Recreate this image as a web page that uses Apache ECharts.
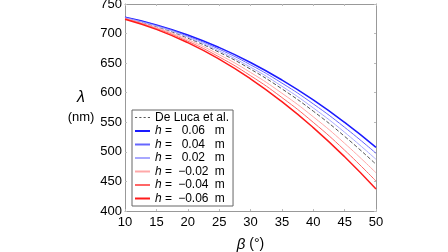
<!DOCTYPE html>
<html><head><meta charset="utf-8">
<script src="https://cdn.jsdelivr.net/npm/echarts@6/dist/echarts.min.js"></script>
<style>html,body{margin:0;padding:0;background:#fff}#c{width:448px;height:252px}</style>
</head><body><div id="c"></div>
<script>
var beta = [10, 15, 20, 25, 30, 35, 40, 45, 50];
var deLuca = [726.2, 711.6, 692.3, 668.4, 639.9, 606.6, 568.8, 526.2, 479.0];
var hP06 = [727.5, 714.7, 697.6, 676.4, 651.1, 621.5, 587.8, 549.8, 507.7];
var hP04 = [727.0, 713.6, 695.7, 673.6, 647.2, 616.3, 581.1, 541.5, 497.6];
var hP02 = [726.6, 712.5, 693.9, 670.7, 643.2, 611.0, 574.3, 533.1, 487.4];
var hM02 = [725.5, 710.1, 689.7, 664.4, 634.3, 599.2, 559.3, 514.4, 464.6];
var hM04 = [724.9, 708.5, 687.1, 660.5, 628.8, 591.9, 549.9, 502.8, 450.6];
var hM06 = [724.3, 707.1, 684.6, 656.7, 623.5, 584.9, 541.0, 491.7, 437.1];
var xTicks = [10, 15, 20, 25, 30, 35, 40, 45, 50];
var yTicks = [400, 450, 500, 550, 600, 650, 700, 750];

var FONT = 'Liberation Sans';
function pairs(arr){ return beta.map(function(b,i){ return [b, arr[i]]; }); }
var DASH_ICON = 'path://M0,0h2v1h-2zM4,0h2v1h-2zM8,0h2v1h-2zM12,0h2v1h-2z';
var defs = [
  {name:'De Luca et al.', data:deLuca, color:'#555555', width:1, type:'dashed', icon:DASH_ICON},
  {name:'0.06', data:hP06, color:'#1a1aff', width:1.5, type:'solid', icon:'rect'},
  {name:'0.04', data:hP04, color:'#6666ff', width:1, type:'solid', icon:'rect'},
  {name:'0.02', data:hP02, color:'#a8a8ff', width:1, type:'solid', icon:'rect'},
  {name:'\u22120.02', data:hM02, color:'#ffa8a8', width:1, type:'solid', icon:'rect'},
  {name:'\u22120.04', data:hM04, color:'#ff6666', width:1, type:'solid', icon:'rect'},
  {name:'\u22120.06', data:hM06, color:'#ff1a1a', width:1.5, type:'solid', icon:'rect'}
];
var series = defs.map(function(d){
  return {type:'line', name:d.name, data:pairs(d.data), smooth:true, symbol:'none',
    xAxisIndex:0, yAxisIndex:0,
    lineStyle:{color:d.color, width:d.width, type:d.type}, itemStyle:{color:d.color}};
});
var axisCommon = {
  axisLine:{show:true, onZero:false, lineStyle:{color:'#999999', width:1}},
  axisTick:{show:true, inside:true, length:2, lineStyle:{color:'#bbbbbb'}},
  splitLine:{show:false}
};
var chart = echarts.init(document.getElementById('c'), null, {renderer:'canvas'});
chart.setOption({
  animation:false,
  textStyle:{fontFamily:FONT},
  grid:{left:125, top:4, right:72, bottom:41, containLabel:false, outerBoundsMode:'none'},
  xAxis:[
    Object.assign({type:'value', min:10, max:50, interval:5, position:'bottom',
      name:'{b|\u03b2} (\u00b0)', nameLocation:'middle', nameGap:26,
      nameTextStyle:{fontFamily:FONT, fontSize:14, color:'#000',
        rich:{b:{fontFamily:FONT, fontSize:15, fontStyle:'italic', color:'#000'}}},
      axisLabel:{fontFamily:FONT, fontSize:13, color:'#000', margin:5}}, axisCommon),
    Object.assign({type:'value', min:10, max:50, interval:5, position:'top', axisLabel:{show:false}}, axisCommon)
  ],
  yAxis:[
    Object.assign({type:'value', min:400, max:750, interval:50, position:'left',
      name:'{l|\u03bb}\n(nm)', nameLocation:'middle', nameRotate:0, nameGap:36,
      nameTextStyle:{fontFamily:FONT, fontSize:13, color:'#000', lineHeight:19, align:'center',
        rich:{l:{fontFamily:FONT, fontSize:16, fontStyle:'italic', color:'#000'}}},
      axisLabel:{fontFamily:FONT, fontSize:13, color:'#000', margin:3}}, axisCommon),
    Object.assign({type:'value', min:400, max:750, interval:50, position:'right', axisLabel:{show:false}}, axisCommon)
  ],
  legend:{
    orient:'vertical', left:132, top:110, itemWidth:15, itemHeight:2, itemGap:0.5,
    padding:[1,4,1,3], borderColor:'#666', borderWidth:1, backgroundColor:'#fff',
    data:defs.map(function(d){return {name:d.name, icon:d.icon};}),
    formatter:function(n){
      if(n==='De Luca et al.') return n;
      return '{i|h} = {v|'+n+'} m';
    },
    textStyle:{fontFamily:FONT, fontSize:12, color:'#000', lineHeight:13,
      rich:{i:{fontFamily:FONT, fontSize:12, fontStyle:'italic', color:'#000', lineHeight:13},
            v:{fontFamily:FONT, fontSize:12, color:'#000', width:36, align:'right', lineHeight:13}}}
  },
  series:series
});
</script></body></html>
